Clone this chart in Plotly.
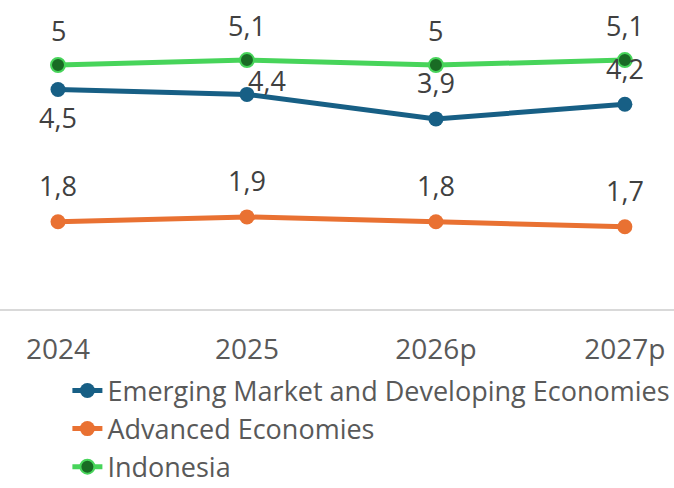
import plotly.graph_objects as go

categories = ["2024", "2025", "2026p", "2027p"]
emde = [4.5, 4.4, 3.9, 4.2]
advanced = [1.8, 1.9, 1.8, 1.7]
indonesia = [5.0, 5.1, 5.0, 5.1]
names = ["Emerging Market and Developing Economies", "Advanced Economies", "Indonesia"]

def fmt(v):
    s = ("%.1f" % v).rstrip("0").rstrip(".")
    return s.replace(".", ",")

FONT = "Open Sans"
fig = go.Figure()

fig.add_trace(go.Scatter(x=categories, y=emde, name=names[0], mode="lines+markers",
                         line=dict(color="#175F85", width=5),
                         marker=dict(size=15, color="#175F85"),
                         legendgroup="a"))
fig.add_trace(go.Scatter(x=categories, y=advanced, name=names[1], mode="lines+markers",
                         line=dict(color="#E97132", width=5),
                         marker=dict(size=15, color="#E97132"),
                         legendgroup="b"))
fig.add_trace(go.Scatter(x=categories, y=indonesia, name=names[2], mode="lines+markers",
                         line=dict(color="#47D45A", width=5),
                         marker=dict(size=14, color="#196B24", line=dict(color="#47D45A", width=2)),
                         legendgroup="c"))

label_font = dict(family=FONT, size=27, color="#404040")
emde_shift = [(0, -28), (20, 14), (0, 36), (0, 36)]
for i, c in enumerate(categories):
    fig.add_annotation(x=i, y=indonesia[i], text=fmt(indonesia[i]), showarrow=False,
                       yshift=35, font=label_font)
    fig.add_annotation(x=i, y=advanced[i], text=fmt(advanced[i]), showarrow=False,
                       yshift=36, font=label_font)
    fig.add_annotation(x=i, y=emde[i], text=fmt(emde[i]), showarrow=False,
                       xshift=emde_shift[i][0], yshift=emde_shift[i][1], font=label_font)

fig.update_layout(
    width=674, height=488,
    margin=dict(l=0, r=0, t=16, b=178, autoexpand=False),
    paper_bgcolor="white", plot_bgcolor="white",
    xaxis=dict(type="category", range=[-0.307, 3.26], showgrid=False,
               showline=False, zeroline=False,
               ticks="outside", ticklen=14, tickcolor="rgba(0,0,0,0)",
               tickfont=dict(family=FONT, size=28, color="#595959")),
    yaxis=dict(range=[0, 6], showgrid=False, zeroline=True, zerolinecolor="#D9D9D9",
               zerolinewidth=2, showticklabels=False, showline=False),
    showlegend=True,
    legend=dict(orientation="v", x=0.1, xanchor="left", y=-0.192, yanchor="top",
                font=dict(family=FONT, size=27, color="#595959"),
                traceorder="grouped", tracegroupgap=0, bgcolor="rgba(0,0,0,0)"),
)

fig.write_html("out.html")
